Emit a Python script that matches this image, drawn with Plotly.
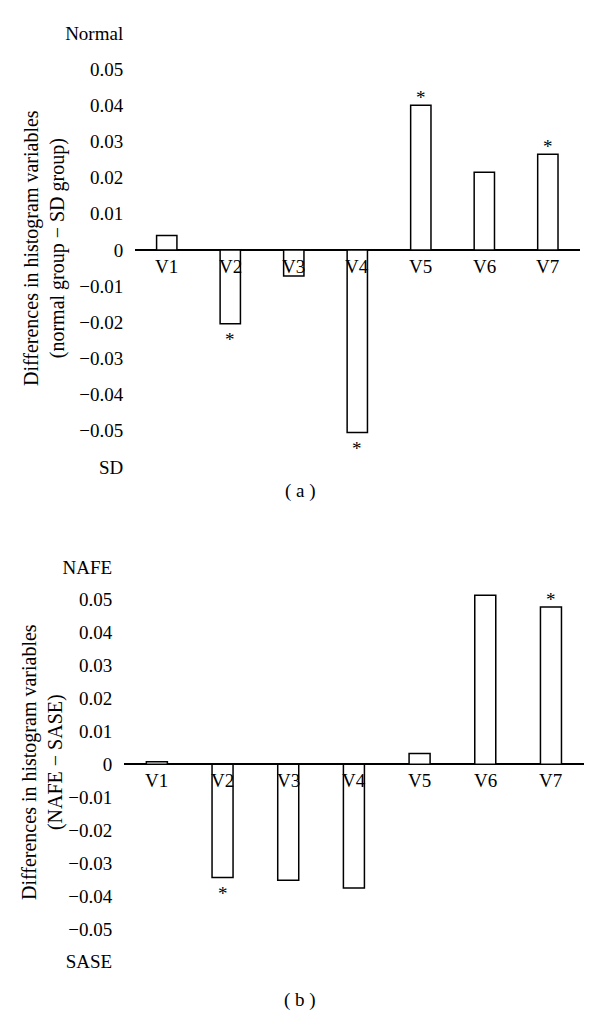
import plotly.graph_objects as go

# Data
categories = ["V1", "V2", "V3", "V4", "V5", "V6", "V7"]
diff_a = [0.004, -0.0204, -0.0072, -0.0505, 0.040, 0.0215, 0.0265]
diff_b = [0.0008, -0.0344, -0.0352, -0.0376, 0.0033, 0.0514, 0.0478]
star_a = ["V2", "V4", "V5", "V7"]
star_b = ["V2", "V7"]

tick_vals = [-0.06, -0.05, -0.04, -0.03, -0.02, -0.01, 0, 0.01, 0.02, 0.03, 0.04, 0.05, 0.06]
num_text = ["\u22120.05", "\u22120.04", "\u22120.03", "\u22120.02", "\u22120.01", "0",
            "0.01", "0.02", "0.03", "0.04", "0.05"]
ticks_a = ["SD"] + num_text + ["Normal"]
ticks_b = ["SASE"] + num_text + ["NAFE"]

FONT = "Liberation Serif"
fig = go.Figure()

fig.add_trace(go.Bar(x=categories, y=diff_a, xaxis="x", yaxis="y", width=0.32,
                     marker=dict(color="white", line=dict(color="black", width=1.5))))
fig.add_trace(go.Bar(x=categories, y=diff_b, xaxis="x2", yaxis="y2", width=0.32,
                     marker=dict(color="white", line=dict(color="black", width=1.5))))

annotations = []
for xr, yr, vals, stars in [("x", "y", diff_a, star_a), ("x2", "y2", diff_b, star_b)]:
    for c, v in zip(categories, vals):
        annotations.append(dict(x=c, y=0, xref=xr, yref=yr, text=c, showarrow=False,
                                yanchor="top", yshift=-4, font=dict(size=19)))
        if c in stars:
            if v > 0:
                annotations.append(dict(x=c, y=v, xref=xr, yref=yr, text="*", showarrow=False,
                                        yanchor="bottom", yshift=-5, font=dict(size=19)))
            else:
                annotations.append(dict(x=c, y=v, xref=xr, yref=yr, text="*", showarrow=False,
                                        yanchor="top", yshift=-3, font=dict(size=19)))

annotations += [
    dict(x=44 / 600, y=1 - 248 / 1024, xref="paper", yref="paper", textangle=-90,
         xanchor="center", yanchor="middle",
         text="Differences in histogram variables<br>(normal group \u2212 SD group)",
         showarrow=False, font=dict(size=20)),
    dict(x=42 / 600, y=1 - 762 / 1024, xref="paper", yref="paper", textangle=-90,
         xanchor="center", yanchor="middle",
         text="Differences in histogram variables<br>(NAFE \u2212 SASE)",
         showarrow=False, font=dict(size=20)),
    dict(x=0.5, y=1 - 491 / 1024, xref="paper", yref="paper", text="( a )",
         xanchor="center", yanchor="middle", showarrow=False, font=dict(size=19)),
    dict(x=0.5, y=1 - 1000 / 1024, xref="paper", yref="paper", text="( b )",
         xanchor="center", yanchor="middle", showarrow=False, font=dict(size=19)),
]

yaxis_common = dict(range=[-0.0625, 0.0625], tickvals=tick_vals, showgrid=False,
                    showline=False, zeroline=True, zerolinecolor="black", zerolinewidth=1.5,
                    ticks="outside", ticklen=7, tickcolor="rgba(0,0,0,0)",
                    tickfont=dict(size=19), automargin=False)
xaxis_common = dict(range=[-0.5, 6.5], showticklabels=False, showgrid=False,
                    showline=False, zeroline=False, automargin=False)

fig.update_layout(
    width=600, height=1024,
    margin=dict(l=0, r=0, t=0, b=0),
    paper_bgcolor="white", plot_bgcolor="white",
    showlegend=False,
    font=dict(family=FONT, color="black", size=19),
    xaxis=dict(domain=[0.225, 0.966], anchor="y", **xaxis_common),
    yaxis=dict(domain=[0.5352, 0.9766], anchor="x", ticktext=ticks_a, **yaxis_common),
    xaxis2=dict(domain=[0.2067, 0.973], anchor="y2", **xaxis_common),
    yaxis2=dict(domain=[0.0527, 0.4544], anchor="x2", ticktext=ticks_b, **yaxis_common),
    annotations=annotations,
)

fig.write_html("out.html", config={"displayModeBar": False},
               post_script="document.body.style.margin='0px';")
